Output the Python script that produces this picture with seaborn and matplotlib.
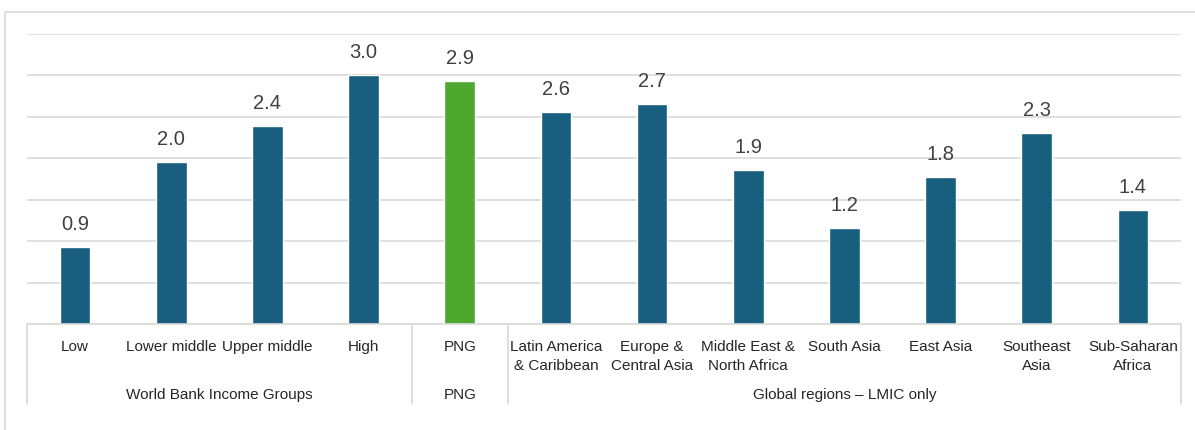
import numpy as np
import seaborn as sns
import matplotlib.pyplot as plt
from matplotlib.patches import Rectangle
import matplotlib.transforms as mtransforms

# categories and values (labels show one decimal)
categories = ["Low", "Lower middle", "Upper middle", "High", "PNG",
              "Latin America\n& Caribbean", "Europe &\nCentral Asia",
              "Middle East &\nNorth Africa", "South Asia", "East Asia",
              "Southeast\nAsia", "Sub-Saharan\nAfrica"]
values = [0.93, 1.96, 2.39, 3.01, 2.93, 2.56, 2.66, 1.86, 1.16, 1.77, 2.31, 1.38]
groups = ["World Bank Income Groups", "PNG", "Global regions \u2013 LMIC only"]
group_sizes = [4, 1, 7]

BLUE = "#175e7f"
GREEN = "#4ea72e"
GRID = "#d9d9d9"

sns.set_theme(style="white")
plt.rcParams['font.family'] = ['Liberation Sans', 'DejaVu Sans']

fig = plt.figure(figsize=(11.95, 4.31), dpi=100)
ax = fig.add_axes([27/1195, 1 - 325/431, (1181 - 27)/1195, 290/431])

# outer chart frame
fig.patches.append(Rectangle((4.5/1195, -0.1), 1.2, 1 - 13/431 + 0.1,
                             transform=fig.transFigure, fill=False,
                             edgecolor=GRID, linewidth=1.2))

colors = [GREEN if c == "PNG" else BLUE for c in categories]
sns.barplot(x=categories, y=values, hue=categories, palette=colors,
            legend=False, width=0.32, saturation=1, ax=ax)

for c in ax.containers:
    ax.bar_label(c, fmt='%.1f', padding=10, fontsize=14.5, color='#404040')

ax.set_ylim(0, 3.5)
ax.set_xlim(-0.5, len(categories) - 0.5)
ax.set_yticks(np.arange(0, 3.51, 0.5))
ax.yaxis.grid(True, color=GRID, linewidth=1.2)
ax.set_axisbelow(True)
ax.set_yticklabels([])
ax.tick_params(axis='y', length=0)
ax.tick_params(axis='x', length=0, pad=11, labelsize=11, labelcolor='#262626')
for lbl in ax.get_xticklabels():
    lbl.set_linespacing(1.45)
ax.set_xlabel("")
ax.set_ylabel("")
for s in ["top", "right", "left"]:
    ax.spines[s].set_visible(False)
ax.spines["bottom"].set_color(GRID)
ax.spines["bottom"].set_linewidth(1.2)

# group separators and group labels
trans = mtransforms.blended_transform_factory(ax.transData, ax.transAxes)
edges = np.concatenate([[0], np.cumsum(group_sizes)]) - 0.5
for e in edges:
    ax.plot([e, e], [0, -80/290], color=GRID, linewidth=1.2,
            transform=trans, clip_on=False)
for g, lo, hi in zip(groups, edges[:-1], edges[1:]):
    ax.text((lo + hi) / 2, -70/290, g, transform=trans, ha='center',
            va='center', fontsize=11, color='#262626')

fig.savefig("out.png", dpi=100)
